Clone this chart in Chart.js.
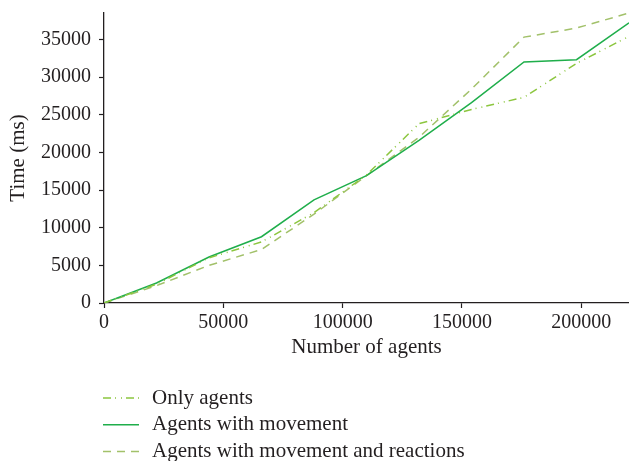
<!DOCTYPE html>
<html>
<head>
<meta charset="utf-8">
<script src="https://cdn.jsdelivr.net/npm/chart.js@4/dist/chart.umd.min.js"></script>
<style>
  html, body { margin: 0; padding: 0; background: #fff; }
  canvas { display: block; }
</style>
</head>
<body>
<canvas id="chart" width="629" height="461"></canvas>
<script>
// number of agents (x) and time in ms (y)
const agents = [0, 22000, 44000, 66000, 88000, 110000, 132000, 154000, 176000, 198000, 220000];
const onlyAgents = [0, 2500, 6000, 8100, 12000, 17000, 23800, 25700, 27300, 31800, 35400];
const withMovement = [0, 2650, 6100, 8800, 13700, 16900, 21600, 26600, 32000, 32300, 37200];
const withReactions = [0, 2300, 5000, 7100, 11800, 16900, 22000, 28400, 35300, 36500, 38500];

const xTicks = [0, 50000, 100000, 150000, 200000];
const yTicks = [0, 5000, 10000, 15000, 20000, 25000, 30000, 35000];

const serif = "'Liberation Serif', 'DejaVu Serif', serif";
const ink = '#231f20';

function toPoints(ys) {
  return agents.map((x, i) => ({ x: x, y: ys[i] }));
}

// legend drawn underneath, one item per row
const rowLegend = {
  id: 'rowLegend',
  afterDraw(chart) {
    const ctx = chart.ctx;
    ctx.save();
    ctx.font = '21px ' + serif;
    ctx.textBaseline = 'middle';
    chart.data.datasets.forEach((ds, i) => {
      const y = 398 + i * 26.7;
      ctx.strokeStyle = ds.borderColor;
      ctx.lineWidth = ds.borderWidth;
      ctx.setLineDash(ds.borderDash || []);
      ctx.beginPath();
      ctx.moveTo(103, y);
      ctx.lineTo(139, y);
      ctx.stroke();
      ctx.setLineDash([]);
      ctx.fillStyle = ink;
      ctx.fillText(ds.label, 152, y);
    });
    ctx.restore();
  }
};

new Chart(document.getElementById('chart').getContext('2d'), {
  type: 'line',
  data: {
    datasets: [
      { label: 'Only agents', data: toPoints(onlyAgents), borderColor: '#8cc63f', borderWidth: 1.5, borderDash: [8, 4, 1, 5, 1, 4] },
      { label: 'Agents with movement', data: toPoints(withMovement), borderColor: '#1fae4b', borderWidth: 1.5 },
      { label: 'Agents with movement and reactions', data: toPoints(withReactions), borderColor: '#a2c16a', borderWidth: 1.5, borderDash: [8, 6] }
    ]
  },
  options: {
    responsive: false,
    animation: false,
    layout: { padding: { top: 13, right: 0, bottom: 97, left: 0 } },
    elements: { point: { radius: 0 }, line: { tension: 0 } },
    plugins: { legend: { display: false }, tooltip: { enabled: false } },
    scales: {
      x: {
        type: 'linear', min: 0, max: 220000,
        afterBuildTicks: s => { s.ticks = xTicks.map(v => ({ value: v })); },
        afterFit: s => { s.height = 61; s.paddingLeft = 0; s.paddingRight = 0; },
        grid: { display: true, drawOnChartArea: false, tickLength: 5, color: ink, tickWidth: 1.2 },
        border: { display: true, color: ink, width: 1.3 },
        ticks: { color: ink, font: { family: serif, size: 20 }, padding: 3, maxRotation: 0, callback: v => String(v) },
        title: { display: true, text: 'Number of agents', color: ink, font: { family: serif, size: 21 }, padding: { top: 0, bottom: 4 } }
      },
      y: {
        min: 0, max: 38500,
        afterBuildTicks: s => { s.ticks = yTicks.map(v => ({ value: v })); },
        afterFit: s => { s.width = 104; s.paddingTop = 0; s.paddingBottom = 0; },
        grid: { display: true, drawOnChartArea: false, tickLength: 5, color: ink, tickWidth: 1.2 },
        border: { display: true, color: ink, width: 1.3 },
        ticks: { color: ink, font: { family: serif, size: 20 }, padding: 8, callback: v => String(v) },
        title: { display: true, text: 'Time (ms)', color: ink, font: { family: serif, size: 21 }, padding: { top: 6, bottom: 0 } }
      }
    }
  },
  plugins: [rowLegend]
});
</script>
</body>
</html>
